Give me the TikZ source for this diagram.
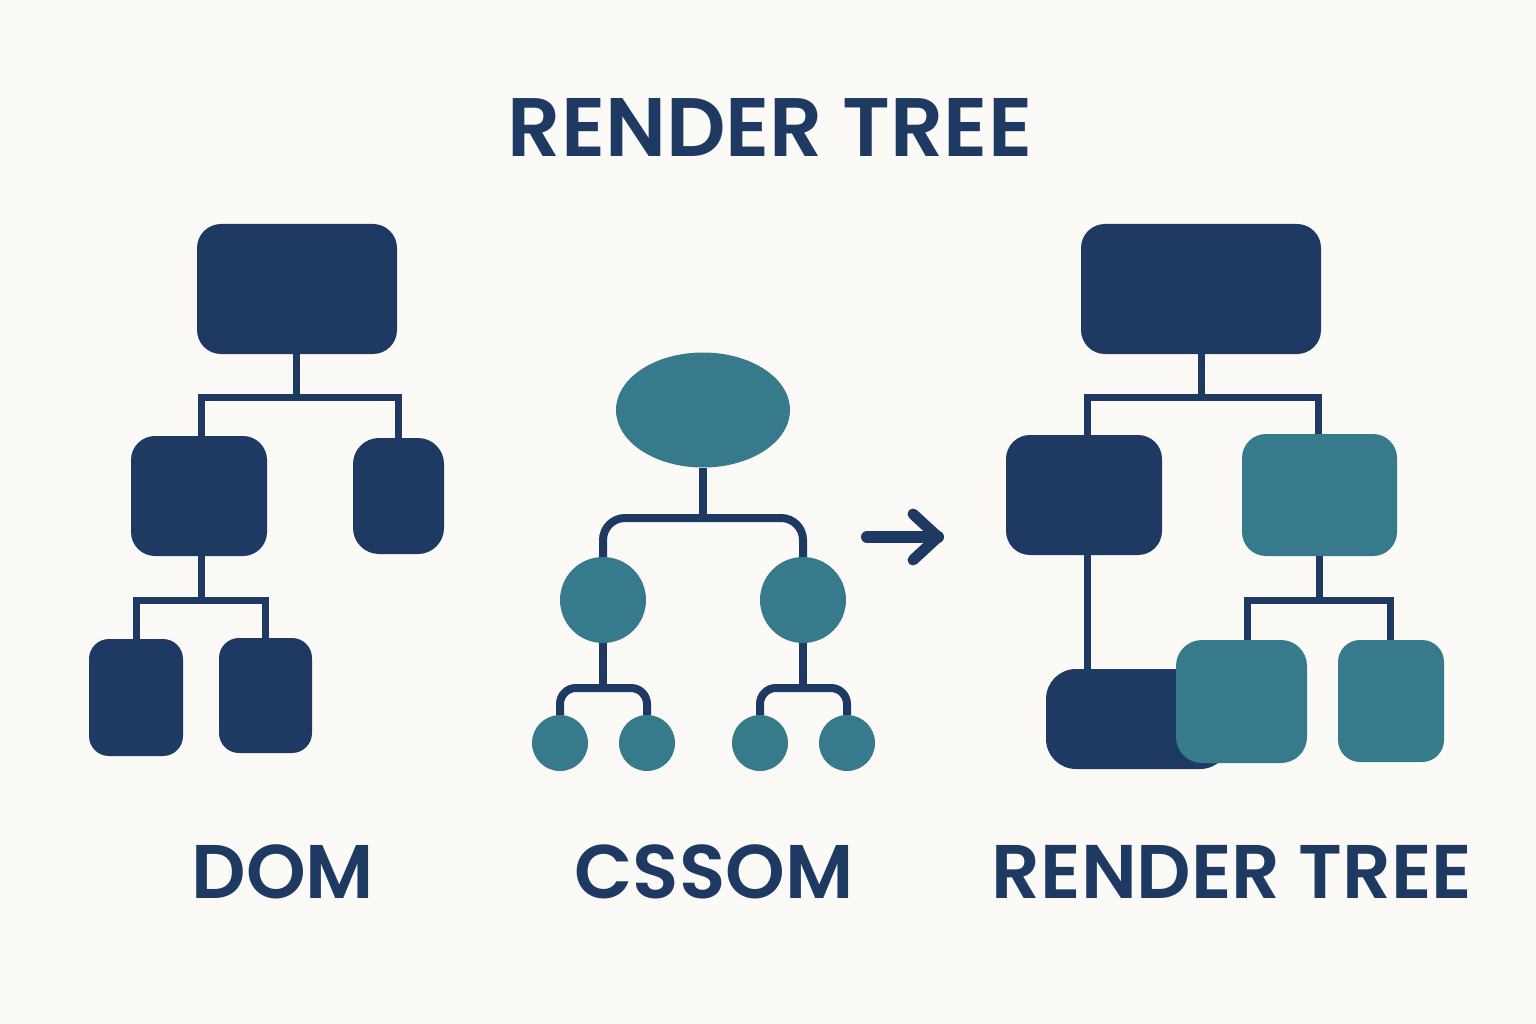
\documentclass[tikz,border=0pt]{standalone}
\usepackage{fontspec}
\setmainfont{Poppins}
\newfontfamily\popsb{Poppins SemiBold}
\usetikzlibrary{shapes.geometric}
\definecolor{navy}{HTML}{1F3A62}
\definecolor{tealc}{HTML}{377A8C}
\definecolor{bgc}{HTML}{FBFAF6}
\begin{document}
\begin{tikzpicture}[x=1pt,y=-1pt,
  dbox/.style={rectangle, rounded corners=24pt, fill=navy, draw=none, inner sep=0pt},
  tbox/.style={rectangle, rounded corners=24pt, fill=tealc, draw=none, inner sep=0pt},
  tcirc/.style={circle, fill=tealc, draw=none, inner sep=0pt},
  link/.style={draw=navy, line width=7pt},
  clink/.style={draw=navy, line width=8pt, rounded corners=22pt},
  sclink/.style={draw=navy, line width=8pt, rounded corners=16pt},
  lbl/.style={font=\popsb\fontsize{76}{80}\selectfont, text=navy, inner sep=0pt, anchor=base}]
\fill[bgc] (0,0) rectangle (1536,1024);
\useasboundingbox (0,0) rectangle (1536,1024);

% title
\node[lbl, font=\popsb\fontsize{83}{88}\selectfont] (title) at (770,157) {RENDER TREE};

% DOM
\node[dbox, minimum width=200pt, minimum height=130pt] (d0) at (297,289) {};
\node[dbox, minimum width=136pt, minimum height=120pt] (d1) at (199,496) {};
\node[dbox, minimum width=91pt, minimum height=116pt, rounded corners=26pt] (d2) at (398.5,496) {};
\node[dbox, minimum width=94pt, minimum height=117pt, rounded corners=20pt] (d3) at (136,697.5) {};
\node[dbox, minimum width=93pt, minimum height=115pt, rounded corners=20pt] (d4) at (265.5,695.5) {};
\coordinate (j1) at (296,397);
\coordinate (j2) at (201,600);
\draw[link] (d0.south -| j1) -- (j1);
\draw[link] ([xshift=2pt]d1.north) |- (j1) -| (d2.north);
\draw[link] (d1.south -| j2) -- (j2);
\draw[link] (d3.north) |- (j2) -| (d4.north);

% CSSOM
\node[ellipse, fill=tealc, draw=none, inner sep=0pt, minimum width=174pt, minimum height=115pt] (c0) at (703,410) {};
\node[tcirc, minimum size=86pt] (c1) at (603,600) {};
\node[tcirc, minimum size=86pt] (c2) at (803,600) {};
\node[tcirc, minimum size=56pt] (c3) at (560,743) {};
\node[tcirc, minimum size=56pt] (c4) at (647,743) {};
\node[tcirc, minimum size=56pt] (c5) at (760,743) {};
\node[tcirc, minimum size=56pt] (c6) at (847,743) {};
\coordinate (k1) at (703,518);
\coordinate (k2) at (603,688);
\coordinate (k3) at (803,688);
\draw[navy, line width=8pt] (c0.south) -- (k1);
\draw[clink] (c1.north) |- (k1) -| (c2.north);
\draw[navy, line width=8pt] (c1.south) -- (k2);
\draw[sclink] (c3.north) |- (k2) -| (c4.north);
\draw[navy, line width=8pt] (c2.south) -- (k3);
\draw[sclink] (c5.north) |- (k3) -| (c6.north);

% arrow
\coordinate (a0) at (867,537);
\coordinate (a1) at (938,537);
\coordinate (a2) at (913,514);
\coordinate (a3) at (913,560);
\draw[navy, line width=12pt, line cap=round, line join=round] (a0) -- (a1);
\draw[navy, line width=11pt, line cap=round, line join=round] (a2) -- (a1) -- (a3);

% Render tree
\node[dbox, minimum width=240pt, minimum height=130pt] (r0) at (1201,289) {};
\node[dbox, minimum width=156pt, minimum height=120pt] (r1) at (1084,495) {};
\node[tbox, minimum width=155pt, minimum height=122pt] (r2) at (1319.5,495) {};
\node[dbox, minimum width=184pt, minimum height=100pt, rounded corners=30pt] (r3) at (1138,719) {};
\node[tbox, minimum width=131pt, minimum height=123pt, rounded corners=26pt] (r4) at (1241.5,701.5) {};
\node[tbox, minimum width=106pt, minimum height=122pt, rounded corners=22pt] (r5) at (1391,701) {};
\coordinate (q1) at (1201,397);
\coordinate (q2) at (1319,600);
\draw[link] (r0.south -| q1) -- (q1);
\draw[link] ([xshift=3pt]r1.north) |- (q1) -| ([xshift=-1.5pt]r2.north);
\draw[link] ([xshift=3pt]r1.south) -- ([xshift=3pt]r1.south |- r3.north);
\draw[link] (r2.south -| q2) -- (q2);
\draw[link] ([xshift=5.5pt]r4.north) |- (q2) -| ([xshift=-1pt]r5.north);

% labels
\node[lbl] (ldom) at (283,898) {DOM};
\node[lbl] (lcss) at (714,898) {CSSOM};
\node[lbl] (lrt) at (1232,898) {RENDER TREE};
\end{tikzpicture}
\end{document}
